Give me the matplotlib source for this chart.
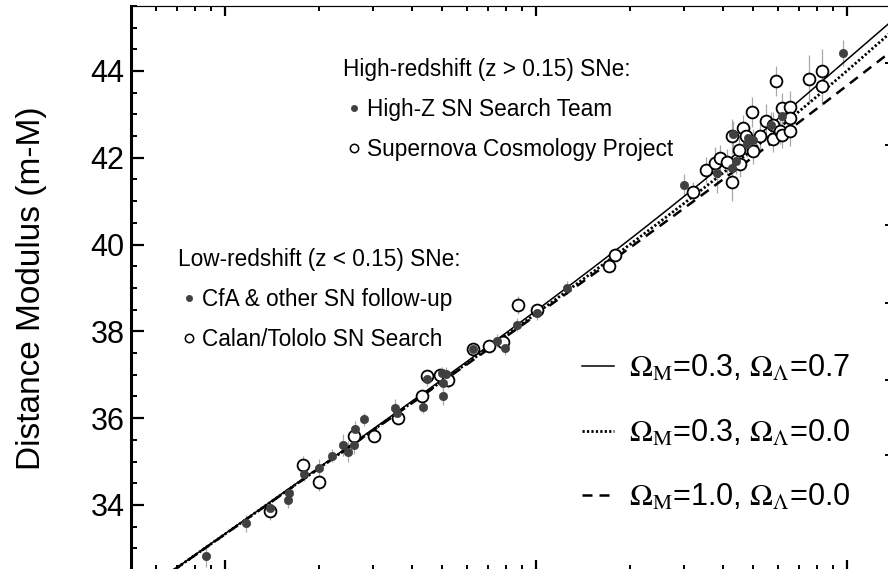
import numpy as np
import matplotlib
matplotlib.use("Agg")
import matplotlib.pyplot as plt
from matplotlib.lines import Line2D

plt.rcParams['font.family'] = ['Liberation Sans', 'DejaVu Sans']
plt.rcParams['mathtext.fontset'] = 'stix'

# low-redshift supernovae: CfA & other follow-up (filled)
cfa_z = [0.0087, 0.0117, 0.0140, 0.0159, 0.0161, 0.0180, 0.0200, 0.0220, 0.0240,
         0.0249, 0.0262, 0.0259, 0.0280, 0.0352, 0.0357, 0.0432, 0.0445, 0.0497,
         0.0501, 0.0503, 0.0514, 0.0629, 0.0747, 0.0795, 0.0871, 0.1010, 0.1258]
cfa_mu = [32.83, 33.58, 33.92, 34.12, 34.27, 34.71, 34.85, 35.14, 35.38,
          35.23, 35.74, 35.38, 35.97, 36.24, 36.11, 36.26, 36.90, 37.03,
          36.80, 36.51, 37.02, 37.59, 37.78, 37.61, 38.15, 38.42, 39.00]
cfa_err = [0.25, 0.20, 0.15, 0.20, 0.15, 0.15, 0.20, 0.15, 0.25,
           0.25, 0.20, 0.20, 0.15, 0.20, 0.15, 0.15, 0.15, 0.15,
           0.20, 0.20, 0.15, 0.15, 0.15, 0.15, 0.15, 0.15, 0.15]

# low-redshift supernovae: Calan/Tololo search (open)
calan_z = [0.0140, 0.0178, 0.0200, 0.0259, 0.0301, 0.0360, 0.0429, 0.0447,
           0.0491, 0.0522, 0.0629, 0.0708, 0.0785, 0.0877, 0.1005]
calan_mu = [33.85, 34.93, 34.52, 35.60, 35.59, 36.00, 36.52, 36.97,
            37.00, 36.89, 37.59, 37.66, 37.76, 38.61, 38.49]
calan_err = [0.20, 0.20, 0.20, 0.15, 0.15, 0.15, 0.15, 0.15,
             0.15, 0.20, 0.15, 0.15, 0.15, 0.20, 0.15]

# high-redshift: High-Z SN Search Team (filled)
highz_z = [0.300, 0.381, 0.426, 0.440, 0.431, 0.482, 0.500, 0.476, 0.570, 0.619, 0.973]
highz_mu = [41.37, 41.64, 41.76, 41.93, 42.55, 42.45, 42.41, 42.32, 42.76, 42.97, 44.41]
highz_err = [0.25, 0.45, 0.30, 0.30, 0.30, 0.25, 0.25, 0.30, 0.30, 0.35, 0.30]

# high-redshift: Supernova Cosmology Project (open)
scp_z = [0.172, 0.180, 0.320, 0.352, 0.376, 0.390, 0.426, 0.410, 0.453, 0.451,
         0.426, 0.464, 0.473, 0.498, 0.494, 0.525, 0.549, 0.579, 0.577, 0.591,
         0.609, 0.617, 0.617, 0.656, 0.656, 0.656, 0.756, 0.829, 0.829]
scp_mu = [39.51, 39.76, 41.20, 41.72, 41.89, 41.99, 41.45, 41.90, 41.86, 42.18,
          42.49, 42.69, 42.49, 42.16, 43.06, 42.50, 42.85, 42.43, 42.76, 43.77,
          42.62, 43.14, 42.53, 43.18, 42.91, 42.62, 43.82, 44.01, 43.66]
scp_err = [0.15, 0.15, 0.25, 0.30, 0.35, 0.30, 0.45, 0.30, 0.30, 0.35,
           0.40, 0.30, 0.30, 0.30, 0.35, 0.30, 0.40, 0.30, 0.30, 0.35,
           0.30, 0.35, 0.30, 0.35, 0.30, 0.35, 0.55, 0.50, 0.45]

# cosmological models (Omega_M, Omega_Lambda) and line styles
models = [(0.3, 0.7), (0.3, 0.0), (1.0, 0.0)]
model_styles = ['-', (0, (0.8, 0.8)), (0, (4.0, 2.8))]
model_widths = [1.1, 2.0, 1.8]
H0 = 65.0
c_kms = 299792.458

# extra ticks along the right-hand axis
right_ticks = [35.15, 36.88, 38.65, 40.45, 42.29, 44.18]


def distance_modulus(z, om, ol):
    ok = 1.0 - om - ol
    zz = np.linspace(0, z.max(), 5000)
    ez = np.sqrt(om * (1 + zz) ** 3 + ok * (1 + zz) ** 2 + ol)
    integrand = 1.0 / ez
    chi = np.concatenate([[0], np.cumsum(0.5 * (integrand[1:] + integrand[:-1]) * np.diff(zz))])
    chi = np.interp(z, zz, chi)
    if ok > 1e-8:
        dm = np.sinh(np.sqrt(ok) * chi) / np.sqrt(ok)
    elif ok < -1e-8:
        dm = np.sin(np.sqrt(-ok) * chi) / np.sqrt(-ok)
    else:
        dm = chi
    dl = (1 + z) * c_kms / H0 * dm
    return 5 * np.log10(dl) + 25


fig = plt.figure(figsize=(8.88, 5.69), dpi=100)
ax = fig.add_axes([0.148, -0.0019, 0.857, 0.9916])

zgrid = np.logspace(np.log10(0.005), np.log10(1.4), 500)
line_handles = []
for (om, ol), ls, lw in zip(models, model_styles, model_widths):
    h, = ax.plot(zgrid, distance_modulus(zgrid, om, ol), color='black', ls=ls, lw=lw, zorder=2)
    line_handles.append(h)

err_kw = dict(fmt='none', ecolor='#a8a8a8', elinewidth=0.9, capsize=0, zorder=1)
ax.errorbar(cfa_z, cfa_mu, yerr=cfa_err, **err_kw)
ax.errorbar(calan_z, calan_mu, yerr=calan_err, **err_kw)
ax.errorbar(highz_z, highz_mu, yerr=highz_err, **err_kw)
ax.errorbar(scp_z, scp_mu, yerr=scp_err, **err_kw)

open_kw = dict(ls='none', marker='o', ms=8.5, mfc='white', mec='black', mew=1.3, zorder=3)
filled_kw = dict(ls='none', marker='o', ms=6.0, mfc='#404040', mec='#404040', mew=0.5, zorder=4)
ax.plot(calan_z, calan_mu, **open_kw)
ax.plot(scp_z, scp_mu, **open_kw)
ax.plot(cfa_z, cfa_mu, **filled_kw)
ax.plot(highz_z, highz_mu, **filled_kw)

ax.set_xscale('log')
ax.set_xlim(0.005, 1.4)
ax.set_ylim(32.5, 45.5)
ax.set_yticks(np.arange(34, 45, 2))
ax.set_yticks(np.arange(32.5, 45.6, 0.5), minor=True)
ax.tick_params(axis='y', which='major', direction='in', length=9.5, width=1.6,
               labelsize=22, pad=5, left=True, right=False)
ax.tick_params(axis='y', which='minor', direction='in', length=4.5, width=1.4,
               left=True, right=False)
ax.tick_params(axis='x', which='major', direction='in', length=7.5, width=1.6,
               top=True, bottom=True, labelbottom=False)
ax.tick_params(axis='x', which='minor', direction='in', length=3.5, width=1.4,
               top=True, bottom=True, labelbottom=False)
ax.spines['left'].set_linewidth(2.2)
ax.spines['top'].set_linewidth(0.8)
ax.spines['top'].set_color('#505050')
ax.set_ylabel('Distance Modulus (m-M)', fontsize=24, labelpad=31)

ax2 = ax.twinx()
ax2.set_ylim(ax.get_ylim())
ax2.set_yticks(right_ticks)
ax2.tick_params(axis='y', direction='in', length=5, width=1.4, labelright=False)
ax2.yaxis.set_minor_locator(matplotlib.ticker.NullLocator())


def group_legend(title, labels, anchor):
    handles = [Line2D([], [], **filled_kw), Line2D([], [], **open_kw)]
    handles[0].set_markersize(4.5)
    handles[1].set_markersize(6.0)
    handles[1].set_markeredgewidth(1.1)
    leg = ax.legend(handles, labels, title=title, alignment='left',
                    loc='upper left', bbox_to_anchor=anchor, frameon=False,
                    fontsize=16.3, title_fontsize=16.3, borderpad=0, borderaxespad=0,
                    handlelength=1.0, handletextpad=0.05, labelspacing=0.75)
    ax.add_artist(leg)


group_legend('High-redshift (z > 0.15) SNe:',
             ['High-Z SN Search Team', 'Supernova Cosmology Project'], (0.278, 0.908))
group_legend('Low-redshift (z < 0.15) SNe:',
             ['CfA & other SN follow-up', 'Calan/Tololo SN Search'], (0.0612, 0.571))

model_labels = [r'$\Omega_{\rm M}$=%.1f, $\Omega_{\Lambda}$=%.1f' % m for m in models]
ax.legend(line_handles, model_labels, loc='upper left', bbox_to_anchor=(0.592, 0.383),
          frameon=False, fontsize=22, borderpad=0, borderaxespad=0,
          handlelength=1.05, handletextpad=0.5, labelspacing=1.11)

fig.savefig('out.png', dpi=100, facecolor='white')
